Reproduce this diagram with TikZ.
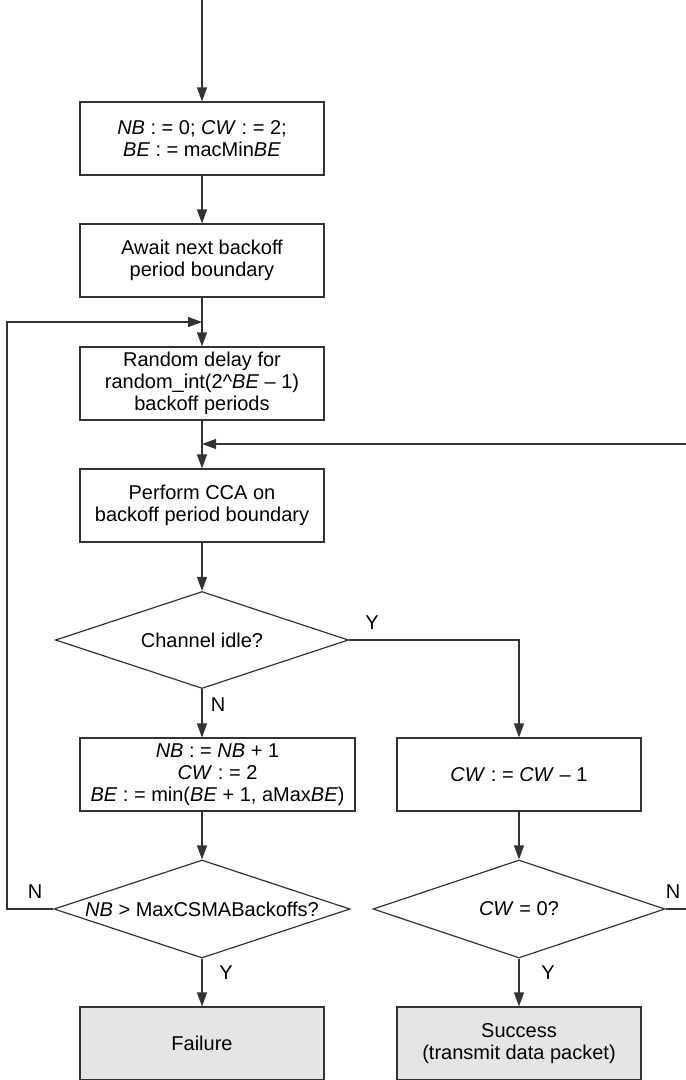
\documentclass[tikz,border=0pt]{standalone}
\usepackage{fontspec}
\setmainfont{Liberation Sans}
\usetikzlibrary{shapes.geometric,arrows.meta}

\begin{document}
\begin{tikzpicture}[x=1pt, y=-1pt,
    font=\fontsize{20}{22}\selectfont,
    line/.style ={draw=black!80, line width=1.2pt},
    flow/.style ={line, -{Triangle[length=14pt,width=10pt]}},
    process/.style ={rectangle, line, fill=white, inner sep=2pt,
                     minimum width=244pt, minimum height=73pt, align=center},
    outcome/.style ={process, fill=black!10},
    decision/.style ={diamond, line, fill=white, inner sep=0pt}]
   \useasboundingbox (0,0) rectangle (686,1080);
   \clip (0,0) rectangle (686,1080);

   % loose ends of the flow
   \coordinate (start)  at (202,0);
   \coordinate (join1)  at (202,322);
   \coordinate (join2)  at (202,444);
   \coordinate (rimleft)  at (7,0);
   \coordinate (rimright) at (700,0);

   % main column
   \node[process] (init)  at (202,138.5) {\textit{NB} : = 0; \textit{CW} : = 2;\\ \textit{BE} : = macMin\textit{BE}};
   \node[process] (await) at (202,260.5) {Await next backoff\\ period boundary};
   \node[process] (delay) at (202,383.5) {Random delay for\\ random\_int(2\^{}\textit{BE} -- 1)\\ backoff periods};
   \node[process] (cca)   at (202,505.5) {Perform CCA on\\ backoff period boundary};
   \node[decision, minimum width=293pt, minimum height=97pt,
         label={center:Channel idle?}] (idle) at (202,640) {};
   \node[process, minimum width=275pt] (incr) at (217.5,774.5)
        {\textit{NB} : = \textit{NB} + 1\\ \textit{CW} : = 2\\ \textit{BE} : = min(\textit{BE} + 1, aMax\textit{BE})};
   \node[decision, minimum width=296pt, minimum height=98pt,
         label={center:{\textit{NB} > MaxCSMABackoffs?}}] (backoffs) at (202,909) {};
   \node[outcome] (fail) at (202,1043.5) {Failure};

   % right column
   \node[process] (dec) at (519,774.5) {\textit{CW} : = \textit{CW} -- 1};
   \node[decision, minimum width=292pt, minimum height=98pt,
         label={center:{\textit{CW} = 0?}}] (cw0) at (519,909) {};
   \node[outcome] (ok) at (519,1043.5) {Success\\ (transmit data packet)};

   % branch answers
   \node (yidle)  at (372,623) {Y};
   \node (nidle)  at (218,705) {N};
   \node (nback)  at (35,892)  {N};
   \node (yback)  at (226,973) {Y};
   \node (ncw)    at (673,892) {N};
   \node (ycw)    at (548,973) {Y};

   \draw[flow] (start) -- (init);
   \draw[flow] (init) -- (await);
   \draw[flow] (await) -- (delay);
   \draw[flow] (delay) -- (cca);
   \draw[flow] (cca) -- (idle);
   \draw[flow] (idle) -- (idle |- incr.north);
   \draw[flow] (idle.east) -| (dec);
   \draw[flow] (idle |- incr.south) -- (backoffs);
   \draw[flow] (dec) -- (cw0);
   \draw[flow] (backoffs) -- (fail);
   \draw[flow] (cw0) -- (ok);
   \draw[flow] (backoffs.west) -- (backoffs.west -| rimleft) |- (join1);
   \draw[flow] (cw0.east) -- (cw0.east -| rimright) |- (join2);
\end{tikzpicture}
\end{document}
